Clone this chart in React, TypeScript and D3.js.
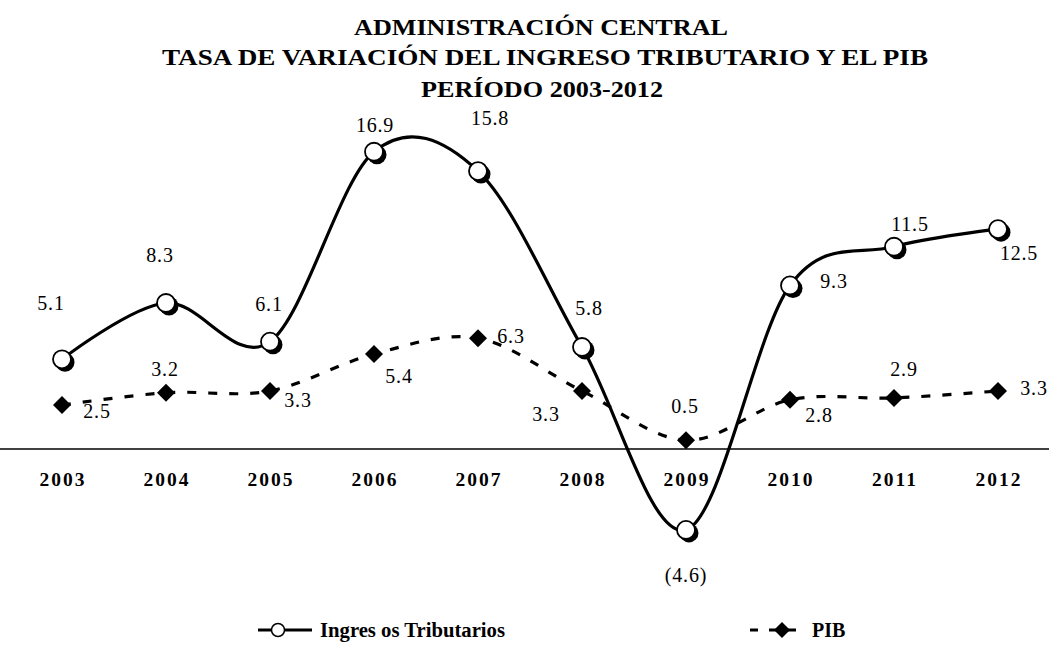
import * as d3 from 'd3';

const years = ['2003', '2004', '2005', '2006', '2007', '2008', '2009', '2010', '2011', '2012'];
const ingresos = [5.1, 8.3, 6.1, 16.9, 15.8, 5.8, -4.6, 9.3, 11.5, 12.5];
const pib = [2.5, 3.2, 3.3, 5.4, 6.3, 3.3, 0.5, 2.8, 2.9, 3.3];
const titleLines = [
  'ADMINISTRACIÓN CENTRAL',
  'TASA DE VARIACIÓN DEL INGRESO TRIBUTARIO Y EL PIB',
  'PERÍODO 2003-2012',
];

// label placement: dx, baseline offset from the marker
const ingLabelOff = [[-11, -49], [-6, -41], [-1, -31], [1, -20], [12, -46], [7, -32], [0, 52], [44, 3], [16, -16], [21, 31]];
const pibLabelOff = [[35, 13], [-1, -17], [28, 16], [25, 29], [33, 5], [-36, 30], [-1, -27], [29, 22], [10, -22], [36, 4]];

const fmt = (v: number) => (v < 0 ? `(${Math.abs(v).toFixed(1)})` : v.toFixed(1));

export default function App() {
  const width = 1049;
  const height = 658;

  const x = d3.scalePoint<string>().domain(years).range([62, 998]);
  const y = d3.scaleLinear().domain([0, 17]).range([449, 150]);

  const line = d3
    .line<number>()
    .x((_, i) => x(years[i])!)
    .y(d => y(d))
    .curve(d3.curveCardinal.tension(0));

  const diamond = (cx: number, cy: number, r: number) =>
    `M${cx},${cy - r}L${cx + r},${cy}L${cx},${cy + r}L${cx - r},${cy}Z`;

  const serif = '"Liberation Serif", "Times New Roman", serif';

  return (
    <svg width={width} height={height} style={{ position: 'absolute', left: 0, top: 0, background: '#fff' }}>
      <g fontFamily={serif} fontWeight="bold" textAnchor="middle" fontSize={23}>
        <text x={541} y={35} textLength={374} lengthAdjust="spacingAndGlyphs">{titleLines[0]}</text>
        <text x={545} y={65} textLength={766} lengthAdjust="spacingAndGlyphs">{titleLines[1]}</text>
        <text x={542} y={97} textLength={242} lengthAdjust="spacingAndGlyphs">{titleLines[2]}</text>
      </g>

      {/* zero axis */}
      <line x1={0} x2={width} y1={y(0)} y2={y(0)} stroke="#000" strokeWidth={1.6} />

      {/* year labels */}
      <g fontFamily={serif} fontWeight="bold" fontSize={19.5} textAnchor="middle" letterSpacing={2}>
        {years.map(yr => (
          <text key={yr} x={x(yr)! + 1} y={486}>{yr}</text>
        ))}
      </g>

      {/* PIB */}
      <path d={line(pib)!} fill="none" stroke="#000" strokeWidth={3.2} strokeDasharray="9,12" />
      {pib.map((v, i) => (
        <path key={i} d={diamond(x(years[i])!, y(v), 9)} fill="#000" />
      ))}

      {/* Ingresos */}
      <path d={line(ingresos)!} fill="none" stroke="#000" strokeWidth={3.2} />
      {ingresos.map((v, i) => (
        <g key={i}>
          <circle cx={x(years[i])! + 3} cy={y(v) + 3} r={9.5} fill="#000" />
          <circle cx={x(years[i])!} cy={y(v)} r={9} fill="#fff" stroke="#000" strokeWidth={1.8} />
        </g>
      ))}

      {/* data labels */}
      <g fontFamily={serif} fontSize={20} textAnchor="middle" letterSpacing={0.8}>
        {ingresos.map((v, i) => (
          <text key={'i' + i} x={x(years[i])! + ingLabelOff[i][0]} y={y(v) + ingLabelOff[i][1]}>{fmt(v)}</text>
        ))}
        {pib.map((v, i) => (
          <text key={'p' + i} x={x(years[i])! + pibLabelOff[i][0]} y={y(v) + pibLabelOff[i][1]}>{fmt(v)}</text>
        ))}
      </g>

      {/* legend */}
      <g>
        <line x1={258} x2={312} y1={630} y2={630} stroke="#000" strokeWidth={3.2} />
        <circle cx={278} cy={630} r={6.5} fill="#fff" stroke="#000" strokeWidth={1.5} />
        <text x={320} y={637} fontFamily={serif} fontWeight="bold" fontSize={20} textLength={185} lengthAdjust="spacingAndGlyphs">Ingres os Tributarios</text>

        <line x1={750} x2={806} y1={630} y2={630} stroke="#000" strokeWidth={3.2} strokeDasharray="8,11" />
        <path d={diamond(782, 630, 8)} fill="#000" />
        <text x={812} y={637} fontFamily={serif} fontWeight="bold" fontSize={20}>PIB</text>
      </g>
    </svg>
  );
}
